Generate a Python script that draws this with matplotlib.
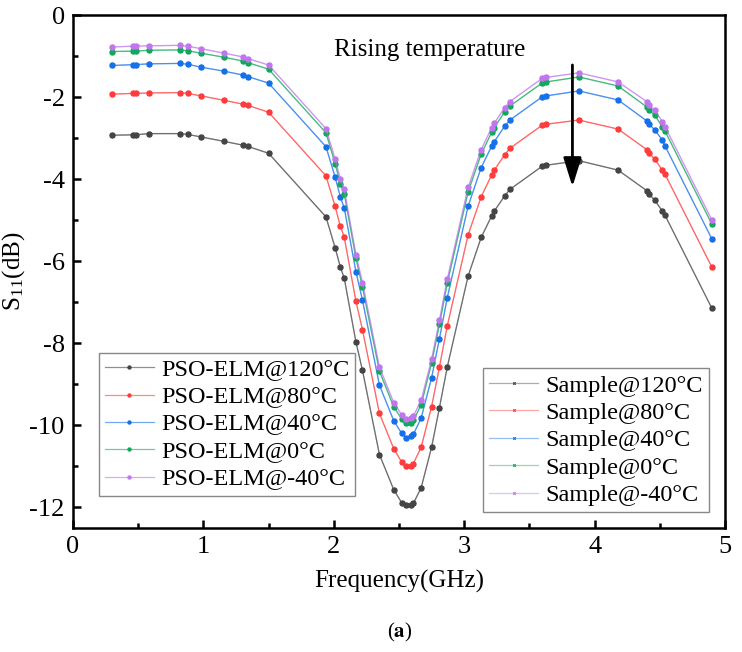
import matplotlib
matplotlib.use('Agg')
import matplotlib.pyplot as plt
from matplotlib.colors import to_rgba

freq = [0.30, 0.46, 0.48, 0.58, 0.82, 0.88, 0.98, 1.16, 1.30, 1.34, 1.50,
        1.94, 2.01, 2.05, 2.08, 2.17, 2.22, 2.35, 2.46, 2.52, 2.55, 2.59,
        2.61, 2.67, 2.75, 2.81, 2.87, 3.03, 3.13, 3.21, 3.23, 3.31, 3.35,
        3.60, 3.63, 3.88, 4.18, 4.40, 4.42, 4.46, 4.52, 4.54, 4.90]

s11_120 = [-2.93, -2.92, -2.92, -2.89, -2.89, -2.91, -2.97, -3.08, -3.17, -3.20, -3.37,
           -4.92, -5.67, -6.14, -6.41, -7.97, -8.66, -10.71, -11.57, -11.88, -11.95, -11.95,
           -11.90, -11.52, -10.53, -9.57, -8.58, -6.36, -5.42, -4.90, -4.78, -4.41, -4.25,
           -3.68, -3.66, -3.55, -3.78, -4.28, -4.37, -4.51, -4.78, -4.88, -7.15]
s11_80 = [-1.93, -1.91, -1.91, -1.90, -1.89, -1.91, -1.97, -2.08, -2.17, -2.20, -2.37,
          -3.92, -4.66, -5.15, -5.41, -6.98, -7.67, -9.71, -10.57, -10.89, -11.00, -10.98,
          -10.93, -10.53, -9.54, -8.58, -7.58, -5.36, -4.43, -3.90, -3.78, -3.41, -3.25,
          -2.68, -2.66, -2.56, -2.78, -3.28, -3.37, -3.51, -3.78, -3.88, -6.15]
s11_40 = [-1.23, -1.21, -1.21, -1.19, -1.18, -1.20, -1.27, -1.37, -1.46, -1.50, -1.66,
          -3.21, -3.95, -4.43, -4.70, -6.26, -6.95, -9.02, -9.89, -10.19, -10.30, -10.27,
          -10.22, -9.82, -8.84, -7.89, -6.89, -4.66, -3.72, -3.20, -3.09, -2.71, -2.56,
          -1.99, -1.97, -1.85, -2.07, -2.58, -2.66, -2.80, -3.05, -3.19, -5.46]
s11_0 = [-0.89, -0.88, -0.88, -0.86, -0.85, -0.87, -0.93, -1.03, -1.12, -1.16, -1.32,
         -2.87, -3.62, -4.11, -4.35, -5.93, -6.63, -8.68, -9.55, -9.84, -9.94, -9.93,
         -9.88, -9.50, -8.48, -7.54, -6.54, -4.31, -3.39, -2.86, -2.75, -2.36, -2.22,
         -1.65, -1.63, -1.51, -1.73, -2.24, -2.32, -2.44, -2.72, -2.83, -5.10]
s11_m40 = [-0.78, -0.76, -0.76, -0.75, -0.74, -0.76, -0.82, -0.93, -1.02, -1.06, -1.22,
           -2.77, -3.51, -4.00, -4.25, -5.84, -6.52, -8.58, -9.45, -9.74, -9.84, -9.82,
           -9.77, -9.39, -8.39, -7.44, -6.44, -4.20, -3.28, -2.75, -2.64, -2.26, -2.11,
           -1.54, -1.52, -1.41, -1.63, -2.11, -2.20, -2.32, -2.60, -2.72, -5.00]

temps = ['120', '80', '40', '0', '-40']
pso_values = [s11_120, s11_80, s11_40, s11_0, s11_m40]
# measured samples sit right under the PSO-ELM curves in the figure
sample_values = [s11_120, s11_80, s11_40, s11_0, s11_m40]
colors = ['#454545', '#ff3c3c', '#1670ea', '#10a85a', '#c276ee']

plt.rcParams['font.family'] = ['Liberation Serif', 'DejaVu Serif']
plt.rcParams['mathtext.fontset'] = 'stix'
plt.rcParams['axes.unicode_minus'] = False

fig = plt.figure(figsize=(7.42, 6.52), dpi=100)
ax = fig.add_axes([73 / 742, 1 - 528 / 652, 652 / 742, 513 / 652])

sample_lines = []
for t, vals, c in zip(temps, sample_values, colors):
    ln, = ax.plot(freq, vals, color=to_rgba(c, 0.45), lw=0.9, marker='x', ms=3,
                  mec=c, mew=0.8, label='Sample@' + t + '°C')
    sample_lines.append(ln)

pso_lines = []
for t, vals, c in zip(temps, pso_values, colors):
    ln, = ax.plot(freq, vals, color=to_rgba(c, 0.6), lw=0.9, marker='o', ms=3.6,
                  mfc=c, mec=c, label='PSO-ELM@' + t + '°C')
    pso_lines.append(ln)

ax.set_xlim(0, 5)
ax.set_ylim(-12.5, 0)
ax.set_xticks([0, 1, 2, 3, 4, 5])
ax.set_xticks([0.5, 1.5, 2.5, 3.5, 4.5], minor=True)
ax.set_yticks([0, -2, -4, -6, -8, -10, -12])
ax.set_yticks([-1, -3, -5, -7, -9, -11], minor=True)
ax.tick_params(which='both', direction='in', labelsize=19, width=1.8)
ax.tick_params(which='major', length=6, pad=6)
ax.tick_params(which='minor', length=3.5)
for sp in ax.spines.values():
    sp.set_linewidth(1.8)

ax.set_xlabel('Frequency(GHz)', fontsize=18, labelpad=8)
ax.set_ylabel(r'S$_\mathregular{11}$(dB)', fontsize=18, labelpad=2)

leg_kw = dict(borderaxespad=0, fontsize=17.5, fancybox=False, framealpha=1,
              edgecolor='#888888', handlelength=2.0, handletextpad=0.3,
              labelspacing=0.22, borderpad=0.25, markerscale=0.6)
leg1 = ax.legend(handles=pso_lines, loc='lower left', bbox_to_anchor=(0.04, 0.062), **leg_kw)
leg1.get_frame().set_linewidth(1.0)
ax.add_artist(leg1)
leg2 = ax.legend(handles=sample_lines, loc='lower right', bbox_to_anchor=(0.975, 0.031), **leg_kw)
leg2.get_frame().set_linewidth(1.0)

ax.text(2.0, -0.85, 'Rising temperature', fontsize=18, ha='left', va='center')
ax.annotate('', xy=(3.83, -4.25), xytext=(3.83, -1.15),
            arrowprops=dict(arrowstyle='-|>,head_length=0.8,head_width=0.25',
                            color='black', lw=2, mutation_scale=22))

fig.text(400 / 742, 1 - 632 / 652, r'($\mathbf{a}$)', fontsize=15, ha='center', va='center')

plt.savefig('out.png', dpi=100)
